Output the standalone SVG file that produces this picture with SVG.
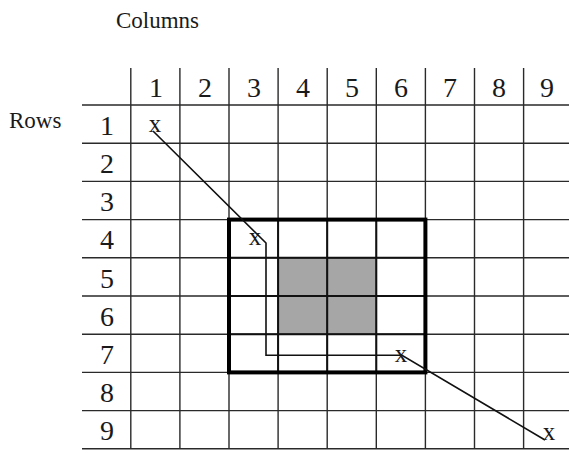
<svg xmlns="http://www.w3.org/2000/svg" width="569" height="453" viewBox="0 0 569 453">
<style>
.lbl{font-size:23px}
.num{font-size:28px;text-anchor:middle}
.mk{font-size:25px;text-anchor:middle}
.g{stroke:#2a2a2a;stroke-width:1.4;fill:none}
.gi{stroke:#111;stroke-width:2;fill:none}
.path{stroke:#111;stroke-width:1.6;fill:none;stroke-linejoin:miter}
</style>
<rect width="569" height="453" fill="#fff"/>
<g id="labels" font-family="Liberation Serif, DejaVu Serif, serif" fill="#1a1a1a">
<text class="lbl" x="116" y="28">Columns</text>
<text class="lbl" x="9" y="128">Rows</text>
</g>
<g id="shade"><rect x="278.3" y="257.8" width="98.2" height="76.4" fill="#a6a6a6"/></g>
<g id="grid">
<path class="g" d="M82 105H569M82 143.2H569M82 181.4H569M82 219.6H569M82 257.8H569M82 296H569M82 334.2H569M82 372.4H569M82 410.6H569M82 448.8H569"/>
<path class="g" d="M130.8 68V449M179.9 68V449M229 68V449M278.1 68V449M327.2 68V449M376.3 68V449M425.4 68V449M474.5 68V449M523.6 68V449"/>
<path class="gi" d="M229 257.8H425.4M229 296H425.4M229 334.2H425.4M278.1 219.6V372.4M327.2 219.6V372.4M376.3 219.6V372.4"/>
</g>
<g id="box"><rect x="229" y="219.6" width="196.4" height="152.8" fill="none" stroke="#000" stroke-width="4"/></g>
<g id="colnums" font-family="Liberation Serif, DejaVu Serif, serif" fill="#1a1a1a">
<text class="num" x="156" y="97">1</text>
<text class="num" x="205" y="97">2</text>
<text class="num" x="254" y="97">3</text>
<text class="num" x="303" y="97">4</text>
<text class="num" x="352" y="97">5</text>
<text class="num" x="401" y="97">6</text>
<text class="num" x="450" y="97">7</text>
<text class="num" x="499" y="97">8</text>
<text class="num" x="547" y="97">9</text>
</g>
<g id="rownums" font-family="Liberation Serif, DejaVu Serif, serif" fill="#1a1a1a">
<text class="num" x="107" y="135">1</text>
<text class="num" x="107" y="173">2</text>
<text class="num" x="107" y="211">3</text>
<text class="num" x="107" y="249">4</text>
<text class="num" x="107" y="288">5</text>
<text class="num" x="107" y="326">6</text>
<text class="num" x="107" y="364">7</text>
<text class="num" x="107" y="402">8</text>
<text class="num" x="107" y="440">9</text>
</g>
<g id="connectors">
<polyline class="path" points="153,131 266,243 266,355.3 402,355.3 545,440"/>
</g>
<g id="markers" font-family="Liberation Serif, DejaVu Serif, serif" fill="#1a1a1a">
<text class="mk" x="155" y="132">x</text>
<text class="mk" x="255" y="245">x</text>
<text class="mk" x="401" y="362">x</text>
<text class="mk" x="549" y="440">x</text>
</g>
</svg>
